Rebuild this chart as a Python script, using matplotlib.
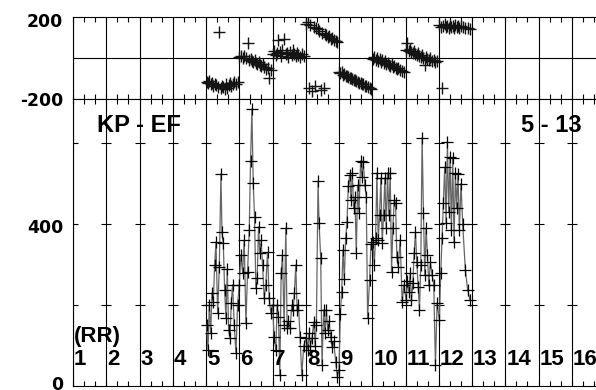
import matplotlib

matplotlib.use("Agg")
import matplotlib.pyplot as plt
from matplotlib.ticker import MultipleLocator

W, H = 596, 390

# time axis in day units (day k spans [k, k+1))
t = [
    5.02, 5.06, 5.10, 5.14, 5.18, 5.22, 5.26, 5.30, 5.35, 5.40, 5.45, 5.48,
    5.52, 5.56, 5.60, 5.64, 5.68, 5.72, 5.76, 5.80, 5.85, 5.90, 5.95,
    6.00, 6.05, 6.10, 6.15, 6.20, 6.25, 6.30, 6.34, 6.38, 6.42, 6.46, 6.50,
    6.54, 6.58, 6.62, 6.66, 6.70, 6.75, 6.80, 6.85, 6.90, 6.95,
    7.00, 7.05, 7.10, 7.14, 7.18, 7.22, 7.26, 7.30, 7.35, 7.40, 7.44, 7.48,
    7.53, 7.58, 7.62, 7.66, 7.70, 7.74, 7.78, 7.83, 7.88, 7.94,
    8.02, 8.06, 8.10, 8.14, 8.19, 8.24, 8.28, 8.32, 8.37, 8.40, 8.45, 8.49,
    8.54, 8.58, 8.62, 8.66, 8.70, 8.75, 8.79, 8.84, 8.90, 8.95,
    9.00, 9.04, 9.08, 9.12, 9.16, 9.20, 9.24, 9.28, 9.32, 9.36, 9.40, 9.44,
    9.48, 9.52, 9.56, 9.60, 9.65, 9.69, 9.73, 9.78, 9.82, 9.86, 9.92, 9.96,
    10.02, 10.06, 10.10, 10.14, 10.18, 10.22, 10.26, 10.30, 10.34, 10.38,
    10.42, 10.46, 10.50, 10.54, 10.58, 10.62, 10.66, 10.70, 10.74, 10.78,
    10.84, 10.90, 10.95,
    11.02, 11.06, 11.10, 11.14, 11.18, 11.22, 11.26, 11.30, 11.34, 11.38,
    11.42, 11.46, 11.50, 11.54, 11.58, 11.62, 11.66, 11.70, 11.75, 11.80,
    11.85, 11.90, 11.95,
    12.02, 12.06, 12.10, 12.14, 12.18, 12.22, 12.26, 12.30, 12.34, 12.38,
    12.42, 12.46, 12.50, 12.54, 12.58, 12.62, 12.67, 12.72, 12.80, 12.87,
    12.94,
]

# upper panel (KP - EF difference)
kp_ef = [
    -118, -125, -112, -130, -122, -140, -128, -135, -145, 125, -150, -138,
    -142, -155, -130, -148, -135, -125, -140, -130, -120, -128, -118,
    5, 10, -2, 8, 0, 70, -10, -5, -15, -20, -12, -25,
    -30, -22, -35, -40, -32, -45, -55, -50, -100, -62,
    20, 35, 15, 25, 85, 30, 10, 40, 90, 20, 25, 5,
    30, 15, 40, 20, 10, 25, 15, 5, 20, 10,
    165, 175, -150, 160, -165, 150, -140, 145, 140, 130, -160, 120,
    -150, 115, 110, 100, 105, 90, 95, 85, 80, 75,
    -70, -75, -72, -85, -80, -90, -88, -95, -100, -98, -105, -110,
    -108, -115, -118, -122, -125, -130, -128, -138, -140, -145, -150, -155,
    -5, 5, -10, 0, -15, -8, -20, -12, -25, -18,
    -30, -28, -35, -40, -32, -45, -42, -50, -55, -48,
    -60, -65, -70,
    40, 70, 35, 45, 30, 25, 35, 20, 15, 25,
    10, 5, 15, 0, -35, 5, -5, -10, 0, -15,
    -10, -20, -15,
    160, 150, -148, 155, 165, 150, 158, 145, 160, 150,
    155, 148, 162, 150, 158, 145, 155, 150, 148, 145,
    143,
]

# lower panel (RR)
rr = [
    150, 90, 200, 130, 230, 207, 300, 356, 180, 294, 524, 380,
    353, 237, 168, 290, 138, 119, 205, 250, 150, 81, 200,
    250, 324, 280, 360, 155, 282, 385, 556, 684, 501, 417, 242,
    267, 393, 328, 360, 300, 217, 250, 330, 217, 180,
    200, 120, 89, 200, 170, 27, 279, 324, 151, 390, 143, 160,
    143, 200, 188, 230, 299, 188, 200, 120, 27, 100,
    119, 90, 130, 100, 119, 158, 100, 150, 506, 403, 316, 52,
    188, 130, 188, 138, 160, 120, 96, 110, 60, 22,
    40, 178, 232, 336, 264, 365, 405, 494, 521, 459, 526, 440,
    467, 328, 496, 427, 556, 516, 553, 496, 467, 168, 262, 350,
    356, 300, 365, 526, 360, 422, 514, 353, 422, 514,
    390, 526, 422, 526, 282, 390, 459, 452, 319, 294,
    360, 207, 250,
    212, 260, 232, 279, 212, 254, 328, 380, 306, 245,
    188, 300, 613, 427, 274, 390, 324, 250, 306, 274,
    250, 52, 205,
    163, 280, 365, 452, 541, 403, 603, 430, 566, 385,
    563, 356, 526, 440, 524, 385, 500, 400, 287, 237,
    212,
]

days = list(range(1, 17))
rr_marks = [200, 400, 600]

TXT = dict(family="Liberation Sans", weight="bold", color="black")


def box(x0, y0, x1, y1):
    """pixel box (top-left origin) -> figure fraction rect"""
    return [x0 / W, 1 - y1 / H, (x1 - x0) / W, (y1 - y0) / H]


def ftext(x, y, s, **kw):
    fig.text(x / W, 1 - y / H, s, **{**TXT, **kw})


fig = plt.figure(figsize=(W / 100, H / 100), dpi=100)
ax_top = fig.add_axes(box(73, 17, 605, 98.5))
ax_bot = fig.add_axes(box(73, 98.5, 605, 386))

for ax in (ax_top, ax_bot):
    ax.set_xlim(1, 17)
    ax.xaxis.set_major_locator(MultipleLocator(1))
    ax.xaxis.set_minor_locator(MultipleLocator(1 / 3))
    ax.tick_params(axis="x", which="both", direction="in", top=True,
                   bottom=True, length=3.5, width=0.8, labelbottom=False)
    ax.tick_params(axis="y", which="both", left=False, labelleft=False)
    for k in days:
        ax.axvline(k, color="black", lw=0.8, zorder=1)
    for spine in ax.spines.values():
        spine.set_linewidth(0.8)
    ax.spines["right"].set_visible(False)

ax_top.set_ylim(-200, 200)
ax_top.axhline(0, color="black", lw=0.8, zorder=1)
ax_top.plot(t, kp_ef, ls="none", marker="+", ms=9, mew=1.0,
            color="#141414", zorder=3)

ax_bot.set_ylim(0, 710)
for y in rr_marks:
    ax_bot.plot(days, [y] * len(days), ls="none", marker="_", ms=7,
                mew=0.8, color="black", zorder=2)
ax_bot.plot(t, rr, color="0.4", lw=0.9, zorder=2)
ax_bot.plot(t, rr, ls="none", marker="+", ms=9, mew=0.9, color="black",
            zorder=3)

# y labels
YL = dict(family="DejaVu Sans", weight="bold", fontsize=12.4, ha="right",
          va="baseline")
ftext(63, 27, "200", **YL)
ftext(63, 106, "-200", **YL)
ftext(63, 233, "400", **YL)
ftext(63, 390, "0", **YL)

ftext(97, 132, "KP - EF", fontsize=17, ha="left", va="baseline")
ftext(582, 132, "5 - 13", fontsize=17, ha="right", va="baseline")
ftext(74, 342, "(RR)", fontsize=16, ha="left", va="baseline")
for k in days:
    x_px = 73 + (k - 1) * 33.25
    ftext(x_px + 1, 365, str(k), fontsize=16, ha="left", va="baseline")

fig.savefig("out.png", dpi=100)
